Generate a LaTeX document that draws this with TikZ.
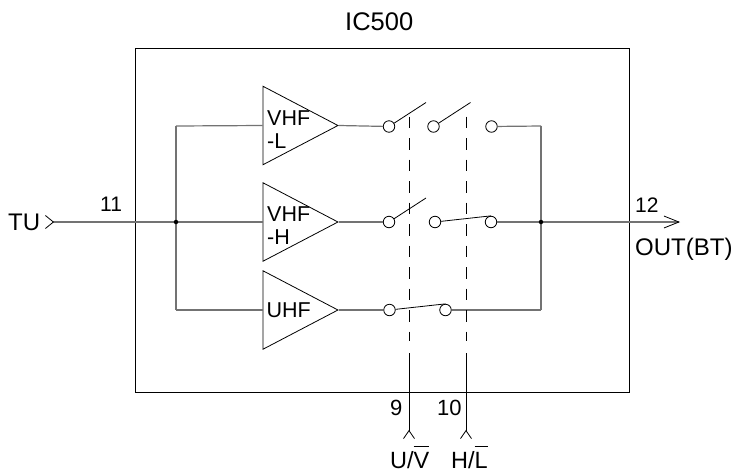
\documentclass[tikz,border=0pt]{standalone}
\usepackage{fontspec}
\setmainfont{Liberation Sans}
\usetikzlibrary{shapes.geometric,arrows.meta}
\begin{document}
\begin{tikzpicture}[x=1pt,y=-1pt,
    wire/.style = {draw=black!55, line width=1.2pt},
    thin wire/.style = {draw=black, line width=0.8pt},
    link/.style = {draw=black, line width=0.8pt, dash pattern=on 11.5pt off 10pt},
    amp/.style = {draw=black, line width=0.8pt, isosceles triangle, isosceles triangle stretches,
        minimum width=78.5pt, minimum height=75pt, inner sep=0pt, anchor=apex},
    pin/.style = {draw=black, line width=0.8pt, circle, fill=white, minimum size=11.5pt, inner sep=0pt},
    dot/.style = {circle, fill=black, minimum size=4.5pt, inner sep=0pt},
    txt/.style = {font=\fontsize{#1}{#1}\selectfont, inner sep=0pt, anchor=base west}]
    \useasboundingbox (0,0) rectangle (734,472);
    \node[draw=black, line width=0.8pt, minimum width=494pt, minimum height=344.5pt, inner sep=0pt] (ic) at (382,220.5) {};
    \node[txt=25.5] (title) at (345,30) {IC500};

    % amps
    \node[amp] (ampl) at (339,125.5) {};
    \node[amp] (ampm) at (339,222) {};
    \node[amp] (ampu) at (339,310) {};
    \node[txt=21.5] (vhfl) at (267,125.7) {VHF};
    \node[txt=21.5] (lowl) at (267,148) {-L};
    \node[txt=21.5] (vhfm) at (267,221.6) {VHF};
    \node[txt=21.5] (lowm) at (267,244) {-H};
    \node[txt=21.5] (uhf) at (266.5,317) {UHF};

    % pins
    \node[pin] (pinla) at (389,126.5) {};
    \node[pin] (pinlb) at (433.5,126.5) {};
    \node[pin] (pinlc) at (491.5,126.5) {};
    \node[pin] (pinma) at (389,222) {};
    \node[pin] (pinmb) at (435,222) {};
    \node[pin] (pinmc) at (491,222) {};
    \node[pin] (pinua) at (389.5,310) {};
    \node[pin] (pinub) at (445.5,310) {};

    % free ends and corners
    \coordinate (armla) at (426,102.5);
    \coordinate (armlb) at (470.5,102.5);
    \coordinate (armma) at (426,198);
    \coordinate (tu) at (45,222);
    \coordinate (out) at (680,222);
    \coordinate (busltop) at (176,126);
    \coordinate (buslbot) at (176,310);
    \coordinate (busrtop) at (541,126);
    \coordinate (busrbot) at (541,310);
    \coordinate (ctla) at (409,439);
    \coordinate (ctlb) at (466,439);
    \coordinate (dasha) at (409,116.7);
    \coordinate (dashb) at (466,116.7);
    \coordinate (enda) at (409,340.5);
    \coordinate (endb) at (466,340.5);
    \coordinate (solida) at (409,353);
    \coordinate (solidb) at (466,353);
    \coordinate (junl) at (176,222);
    \coordinate (junr) at (541,222);

    % wires
    \draw[wire,{Straight Barb[reversed,length=8pt,width=13pt,line width=0.8pt,black]}-] (tu) -- (junl);
    \draw[wire] (junl) -- (ampm.lower side);
    \draw[wire] (busltop) -- (buslbot);
    \draw[wire] (busltop) -- (ampl.lower side);
    \draw[wire] (buslbot) -- (ampu.lower side);
    \draw[wire] (ampl.apex) -- (pinla);
    \draw[wire] (ampm.apex) -- (pinma);
    \draw[wire] (ampu.apex) -- (pinua);
    \draw[wire] (pinlc) -- (busrtop);
    \draw[wire] (pinmc) -- (junr);
    \draw[wire] (pinub) -- (busrbot);
    \draw[wire] (busrtop) -- (busrbot);
    \draw[wire,-{Straight Barb[length=15pt,width=12pt,line width=0.8pt,black]}] (junr) -- (out);
    \node[dot] (dotl) at (junl) {};
    \node[dot] (dotr) at (junr) {};

    % arms
    \draw[thin wire] (pinla) -- (armla);
    \draw[thin wire] (pinlb) -- (armlb);
    \draw[thin wire] (pinma) -- (armma);
    \draw[thin wire] (pinmb) -- (pinmc.north);
    \draw[thin wire] (pinua) -- (pinub.north);

    % control
    \draw[link] (dasha) -- (enda);
    \draw[link] (dashb) -- (endb);
    \draw[thin wire,-{Straight Barb[reversed,length=8pt,width=11pt]}] (solida) -- (ctla);
    \draw[thin wire,-{Straight Barb[reversed,length=8pt,width=11pt]}] (solidb) -- (ctlb);

    % pin labels
    \node[txt=24] (tulabel) at (8,230.5) {TU};
    \node[txt=21] (num11) at (100,211) {11};
    \node[txt=21] (num12) at (635,212) {12};
    \node[txt=24] (outlabel) at (635,255) {OUT(BT)};
    \node[txt=22] (num9) at (390,415) {9};
    \node[txt=22] (num10) at (437,415) {10};
    \node[txt=23.5] (ulabel) at (390,468) {U/$\overline{\hbox{\rule{0pt}{20pt}V}}$};
    \node[txt=23.5] (hlabel) at (451,468) {H/$\overline{\hbox{\rule{0pt}{20pt}L}}$};
\end{tikzpicture}
\end{document}
